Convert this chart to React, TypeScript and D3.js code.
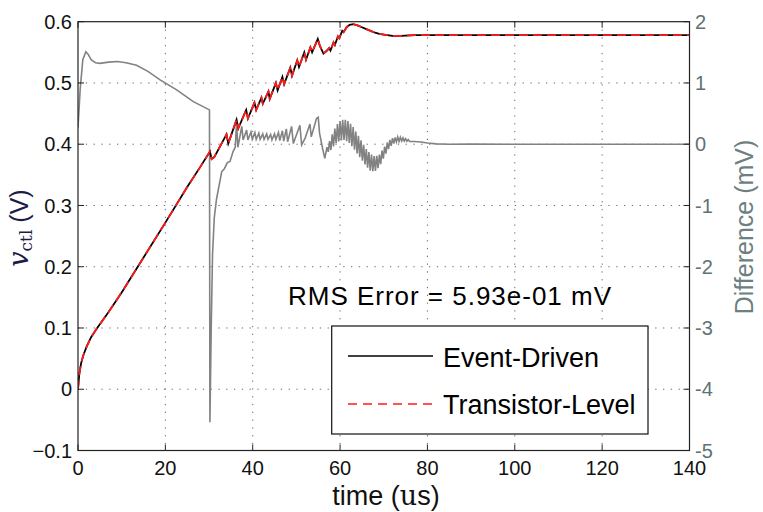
import * as React from "react";
import * as d3 from "d3";

// v_ctl (V) vs time (us) – event-driven and transistor-level overlap
const vctlPoints: [number, number][] = [
  [0, 0], [0.3, 0.025], [0.7, 0.042], [1.2, 0.055], [2, 0.07], [3, 0.085], [4, 0.096],
  [5, 0.106], [7, 0.126], [10, 0.158], [15, 0.215], [20, 0.272], [25, 0.33], [28, 0.363],
  [30.2, 0.388], [30.6, 0.376], [31.2, 0.379], [34, 0.416], [34.4, 0.401], [36.3, 0.44],
  [36.7, 0.426], [38.5, 0.456], [38.9, 0.442], [40.4, 0.468], [40.8, 0.456], [42, 0.476],
  [42.3, 0.466], [43.6, 0.486], [43.9, 0.474], [45.3, 0.5], [45.7, 0.488], [46.8, 0.51],
  [47.2, 0.498], [48.6, 0.525], [49, 0.512], [50.2, 0.537], [50.6, 0.526], [51.8, 0.55],
  [52.2, 0.538], [53.2, 0.558], [53.6, 0.55], [54.9, 0.572], [55.4, 0.56], [56.2, 0.548],
  [57, 0.553], [57.5, 0.557], [57.8, 0.553], [58.5, 0.566], [58.8, 0.562], [59.5, 0.576],
  [59.8, 0.573], [60.5, 0.585], [60.8, 0.583], [61.5, 0.591], [62.2, 0.595], [63, 0.596],
  [64, 0.594], [65, 0.591], [66, 0.588], [67, 0.585], [68, 0.582], [69, 0.58], [70, 0.579],
  [72, 0.577], [74, 0.577], [77, 0.578], [80, 0.578], [140, 0.578],
];
const eventDriven = vctlPoints;
const transistorLevel = vctlPoints;

// difference (mV)
const diffPoints: [number, number][] = [
  [0, 0.27], [0.5, 0.9], [1.1, 1.38], [1.8, 1.51], [2.3, 1.47], [3, 1.38], [4, 1.33], [5, 1.32],
  [7, 1.34], [9, 1.35], [11, 1.33], [13.4, 1.29], [16, 1.19], [18.8, 1.05], [22.6, 0.886],
  [26.4, 0.695], [30.1, 0.56], [30.2, -4.54], [30.5, -3.0], [30.8, -1.8], [31.2, -1.2],
  [31.7, -0.9], [32.1, -0.75], [32.9, -0.45], [33.5, -0.4], [34.2, -0.3], [34.8, -0.28],
  [35.5, -0.12], [36.0, -0.05], [36.3, 0.34], [36.6, -0.05], [37.5, 0.29], [37.8, 0.07],
  [38.6, 0.23], [38.9, 0.07], [39.6, 0.2], [39.9, 0.08], [40.5, 0.19], [40.8, 0.08],
  [41.4, 0.18], [41.7, 0.08], [42.3, 0.17], [42.6, 0.08], [43.2, 0.17], [43.5, 0.08],
  [44.1, 0.16], [44.4, 0.07], [45, 0.17], [45.3, 0.08], [45.9, 0.19], [46.2, 0.06],
  [46.8, 0.22], [47.1, 0.05], [47.7, 0.25], [48, 0.04], [48.9, 0.29], [49.3, 0.01],
  [50.8, 0.31], [51.2, -0.01], [52, 0.1], [53.1, 0.33], [53.4, 0.12], [54.6, 0.42],
  [55, 0.44], [55.3, 0.18], [56, -0.07], [56.5, -0.23],
  [57.0, -0.05], [57.3, -0.125], [57.6, 0.05], [57.9, -0.095], [58.2, 0.16], [58.5, -0.035],
  [58.8, 0.255], [59.1, 0.015], [59.4, 0.33], [59.7, 0.046], [60.0, 0.38], [60.3, 0.063],
  [60.6, 0.4], [60.9, 0.068], [61.2, 0.4], [61.5, 0.05], [61.8, 0.378], [62.1, 0.02],
  [62.4, 0.334], [62.7, -0.033], [63.0, 0.28], [63.3, -0.09], [63.6, 0.208], [63.9, -0.15],
  [64.2, 0.136], [64.5, -0.21], [64.8, 0.064], [65.1, -0.27], [65.4, -0.008], [65.7, -0.33],
  [66.0, -0.08], [66.3, -0.384], [66.6, -0.128], [66.9, -0.432], [67.2, -0.168], [67.5, -0.44],
  [67.8, -0.192], [68.1, -0.436], [68.4, -0.188], [68.7, -0.391], [69.0, -0.17], [69.3, -0.325],
  [69.6, -0.104], [69.9, -0.235], [70.2, -0.038], [70.5, -0.155], [70.8, 0.028], [71.1, -0.081],
  [71.4, 0.07], [71.7, -0.027], [72.0, 0.1], [72.3, 0.012], [72.6, 0.112], [72.9, 0.036],
  [73.2, 0.118], [73.5, 0.045], [73.8, 0.112], [74.1, 0.051], [74.4, 0.103], [74.7, 0.05],
  [75.0, 0.09], [75.3, 0.049], [75.6, 0.075], [75.9, 0.045], [77, 0.045], [78.5, 0.035],
  [80, 0.02], [82, 0.005], [85, 0], [90, 0.002], [100, 0], [140, 0],
];

const xTicks = [0, 20, 40, 60, 80, 100, 120, 140];
const leftTicks = [-0.1, 0, 0.1, 0.2, 0.3, 0.4, 0.5, 0.6];
const rightTicks = [-5, -4, -3, -2, -1, 0, 1, 2];
const rmsLabel = "RMS Error = 5.93e-01 mV";
const legendNames = ["Event-Driven", "Transistor-Level"];

const FONT = "'Liberation Sans', Arial, sans-serif";
const SERIF = "'DejaVu Serif', 'Liberation Serif', serif";

export default function App() {
  const W = 763, H = 512;
  const L = 78, R = 689.5, T = 21.7, B = 450.5;

  const x = d3.scaleLinear().domain([0, 140]).range([L, R]);
  const yL = d3.scaleLinear().domain([-0.1, 0.6]).range([B, T]);
  const yR = d3.scaleLinear().domain([-5, 2]).range([B, T]);

  const lineL = d3.line<[number, number]>().x((d) => x(d[0])).y((d) => yL(d[1]));
  const lineR = d3.line<[number, number]>().x((d) => x(d[0])).y((d) => yR(d[1]));

  const grid = "#6a6a6a";
  const rightColor = "#607274";
  const fmt = (v: number) => (v === 0 ? "0" : d3.format(".1f")(v));

  return (
    <svg
      width={W}
      height={H}
      style={{ position: "absolute", left: 0, top: 0, display: "block", background: "#fff" }}
      fontFamily={FONT}
    >
      <defs>
        <clipPath id="plot">
          <rect x={L} y={T} width={R - L} height={B - T} />
        </clipPath>
      </defs>

      {/* grid */}
      {xTicks.slice(1, -1).map((t) => (
        <line key={"gx" + t} x1={x(t)} x2={x(t)} y1={T} y2={B}
          stroke={grid} strokeWidth={1} strokeDasharray="1.3,6.5" />
      ))}
      {leftTicks.slice(1, -1).map((t) => (
        <line key={"gy" + t} x1={L} x2={R} y1={yL(t)} y2={yL(t)}
          stroke={grid} strokeWidth={1} strokeDasharray="1.3,6.5" />
      ))}

      {/* series */}
      <g clipPath="url(#plot)" fill="none">
        <path d={lineR(diffPoints)!} stroke="#828282" strokeWidth={1.6} />
        <path d={lineL(eventDriven)!} stroke="#000" strokeWidth={1.8} />
        <path d={lineL(transistorLevel)!} stroke="#ff1a1a" strokeWidth={1.8} strokeDasharray="9,5" />
      </g>

      {/* box and ticks */}
      <rect x={L} y={T} width={R - L} height={B - T} fill="none" stroke="#222" strokeWidth={1.2} />
      {xTicks.map((t) => (
        <g key={"xt" + t}>
          <line x1={x(t)} x2={x(t)} y1={B} y2={B - 6} stroke="#222" />
          <line x1={x(t)} x2={x(t)} y1={T} y2={T + 6} stroke="#222" />
          <text x={x(t)} y={475} textAnchor="middle" fontSize={20} fill="#111">{t}</text>
        </g>
      ))}
      {leftTicks.map((t) => (
        <g key={"yl" + t}>
          <line x1={L} x2={L + 6} y1={yL(t)} y2={yL(t)} stroke="#222" />
          <text x={72} y={yL(t)} dy="0.36em" textAnchor="end" fontSize={20} fill="#111">{fmt(t)}</text>
        </g>
      ))}
      {rightTicks.map((t) => (
        <g key={"yr" + t}>
          <line x1={R} x2={R - 6} y1={yR(t)} y2={yR(t)} stroke="#222" />
          <text x={695} y={yR(t)} dy="0.36em" textAnchor="start" fontSize={20} fill={rightColor}>{t}</text>
        </g>
      ))}

      {/* axis labels */}
      <text x={386} y={505} textAnchor="middle" fontSize={27} fill="#111">
        time (<tspan fontFamily={SERIF}>u</tspan>s)
      </text>
      <text transform="translate(28,228) rotate(-90)" textAnchor="middle" fill="#1c1c48">
        <tspan fontFamily={SERIF} fontStyle="italic" fontSize={27}>v</tspan>
        <tspan fontFamily={SERIF} fontSize={17} dy={4}>ctl</tspan>
        <tspan fontSize={25} dy={-4}> (V)</tspan>
      </text>
      <text transform="translate(753,227) rotate(-90)" textAnchor="middle" fontSize={25} fill="#6d7f80">
        Difference (mV)
      </text>

      {/* annotation */}
      <text x={288} y={305} fontSize={26} textLength={323} lengthAdjust="spacing" fill="#000">
        {rmsLabel}
      </text>

      {/* legend */}
      <rect x={331.7} y={326} width={316.3} height={108} fill="#fff" stroke="#111" strokeWidth={1.2} />
      <line x1={348} x2={433} y1={356} y2={356} stroke="#000" strokeWidth={1.6} />
      <text x={443} y={366.5} fontSize={27} fill="#000">{legendNames[0]}</text>
      <line x1={348} x2={433} y1={404} y2={404} stroke="#ff1a1a" strokeWidth={1.6} strokeDasharray="9,6" />
      <text x={443} y={414} fontSize={27} fill="#000">{legendNames[1]}</text>
    </svg>
  );
}
